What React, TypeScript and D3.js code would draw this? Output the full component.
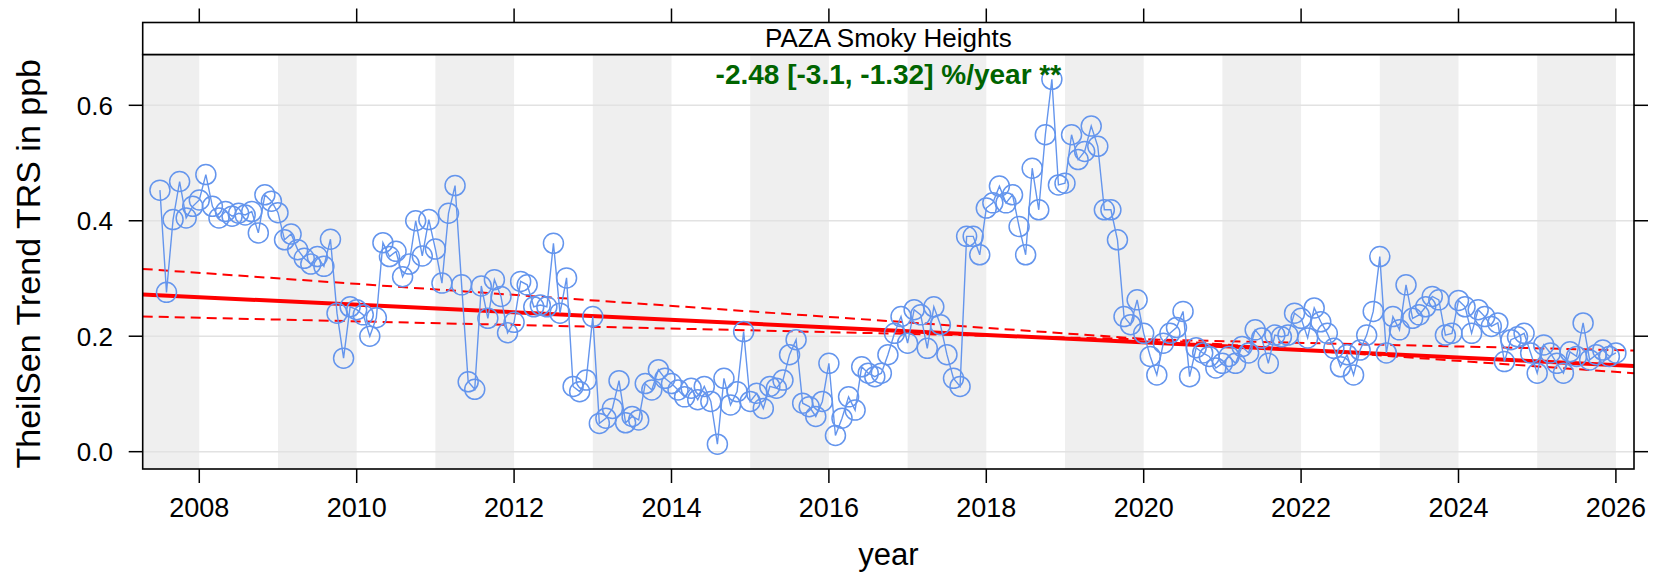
import React from "react";
import * as d3 from "d3";

// ---------- data ----------
const startYear = 2007;
const startMonth = 7; // first monthly mean: July 2007

const trs2007 = [0.453, 0.276, 0.402, 0.468, 0.405, 0.425];
const trs2008 = [0.436, 0.48, 0.425, 0.405, 0.416, 0.408, 0.413, 0.41, 0.416, 0.379, 0.445, 0.434];
const trs2009 = [0.414, 0.367, 0.377, 0.35, 0.335, 0.325, 0.338, 0.321, 0.368, 0.24, 0.162, 0.251];
const trs2010 = [0.246, 0.237, 0.2, 0.232, 0.362, 0.338, 0.347, 0.303, 0.325, 0.4, 0.339, 0.402];
const trs2011 = [0.351, 0.292, 0.413, 0.461, 0.289, 0.121, 0.108, 0.287, 0.231, 0.298, 0.269, 0.206];
const trs2012 = [0.224, 0.295, 0.289, 0.251, 0.254, 0.251, 0.361, 0.24, 0.301, 0.113, 0.104, 0.124];
const trs2013 = [0.234, 0.049, 0.058, 0.075, 0.123, 0.05, 0.061, 0.055, 0.118, 0.107, 0.142, 0.127];
const trs2014 = [0.118, 0.107, 0.095, 0.11, 0.09, 0.113, 0.087, 0.013, 0.127, 0.081, 0.104, 0.208];
const trs2015 = [0.087, 0.101, 0.075, 0.113, 0.11, 0.124, 0.168, 0.194, 0.084, 0.078, 0.061, 0.087];
const trs2016 = [0.153, 0.028, 0.058, 0.095, 0.072, 0.147, 0.136, 0.13, 0.136, 0.168, 0.205, 0.234];
const trs2017 = [0.188, 0.246, 0.237, 0.179, 0.251, 0.22, 0.168, 0.127, 0.113, 0.373, 0.373, 0.341];
const trs2018 = [0.422, 0.431, 0.46, 0.431, 0.445, 0.39, 0.341, 0.491, 0.419, 0.549, 0.645, 0.462];
const trs2019 = [0.465, 0.549, 0.506, 0.52, 0.564, 0.529, 0.419, 0.419, 0.367, 0.234, 0.22, 0.263];
const trs2020 = [0.205, 0.165, 0.133, 0.188, 0.205, 0.215, 0.243, 0.13, 0.18, 0.171, 0.165, 0.145];
const trs2021 = [0.153, 0.165, 0.153, 0.182, 0.171, 0.211, 0.197, 0.153, 0.202, 0.199, 0.202, 0.24];
const trs2022 = [0.231, 0.197, 0.249, 0.225, 0.205, 0.179, 0.147, 0.168, 0.133, 0.176, 0.202, 0.243];
const trs2023 = [0.338, 0.171, 0.234, 0.211, 0.289, 0.231, 0.237, 0.251, 0.269, 0.263, 0.202, 0.205];
const trs2024 = [0.262, 0.251, 0.205, 0.246, 0.234, 0.217, 0.223, 0.156, 0.194, 0.199, 0.205, 0.171];
const trs2025 = [0.136, 0.185, 0.171, 0.153, 0.136, 0.173, 0.165, 0.223, 0.159, 0.168, 0.176, 0.165];
const trs2026 = [0.171];

const trsValues = [
  ...trs2007, ...trs2008, ...trs2009, ...trs2010, ...trs2011, ...trs2012, ...trs2013,
  ...trs2014, ...trs2015, ...trs2016, ...trs2017, ...trs2018, ...trs2019, ...trs2020,
  ...trs2021, ...trs2022, ...trs2023, ...trs2024, ...trs2025, ...trs2026,
];

const xDomain = [2007.281, 2026.23];
const yDomain = [-0.03, 0.688];
const xTickYears = [2008, 2010, 2012, 2014, 2016, 2018, 2020, 2022, 2024, 2026];
const yTickValues = [0, 0.2, 0.4, 0.6];
const yTickLabels = ["0.0", "0.2", "0.4", "0.6"];
const shadedYears = [2007, 2009, 2011, 2013, 2015, 2017, 2019, 2021, 2023, 2025];

// Theil-Sen trend (value at the left and right panel edges)
const trendCentral = [0.2722, 0.1486];
const trendCiSteep = [0.3166, 0.136];
const trendCiShallow = [0.2342, 0.1753];

const siteName = "PAZA Smoky Heights";
const trendLabel = "-2.48 [-3.1, -1.32] %/year **";
const yTitle = "TheilSen Trend TRS in ppb";
const xTitle = "year";

// ---------- layout ----------
const W = 1658;
const H = 581;
const L = 142.7;
const R = 1634;
const T = 54.5;
const B = 469;
const stripTop = 22.5;
const FONT = "'Liberation Sans', Arial, Helvetica, sans-serif";
const BLUE = "#6495ED";

export default function App() {
  const x = d3.scaleLinear().domain(xDomain).range([L, R]);
  const y = d3.scaleLinear().domain(yDomain).range([B, T]);

  const pts = trsValues.map((v, i) => ({
    t: startYear + (startMonth - 1 + i) / 12,
    v,
  }));
  const line = d3
    .line<{ t: number; v: number }>()
    .x((d) => x(d.t))
    .y((d) => y(d.v));

  const trendPath = (vals: number[]) =>
    d3.line<number>()
      .x((_, i) => x(xDomain[i]))
      .y((d) => y(d))(vals) || "";

  return (
    <svg
      width={W}
      height={H}
      style={{ position: "absolute", left: 0, top: 0, background: "#fff" }}
      fontFamily={FONT}
    >
      <defs>
        <clipPath id="panel">
          <rect x={L} y={T} width={R - L} height={B - T} />
        </clipPath>
      </defs>
      <rect x={0} y={0} width={W} height={H} fill="#fff" />

      {/* shaded years */}
      <g clipPath="url(#panel)">
        {shadedYears.map((yr) => (
          <rect
            key={yr}
            x={x(yr)}
            y={T}
            width={x(yr + 1) - x(yr)}
            height={B - T}
            fill="#efefef"
          />
        ))}
        {yTickValues.map((v) => (
          <line key={v} x1={L} x2={R} y1={y(v)} y2={y(v)} stroke="#e2e2e2" strokeWidth={1.5} />
        ))}

        {/* trend lines */}
        <path d={trendPath(trendCiSteep)} fill="none" stroke="#ff0000" strokeWidth={2} strokeDasharray="10,6" />
        <path d={trendPath(trendCiShallow)} fill="none" stroke="#ff0000" strokeWidth={2} strokeDasharray="10,6" />
        <path d={trendPath(trendCentral)} fill="none" stroke="#ff0000" strokeWidth={4} />

        {/* data */}
        <path d={line(pts) || ""} fill="none" stroke={BLUE} strokeWidth={1.4} />
        {pts.map((d, i) => (
          <circle key={i} cx={x(d.t)} cy={y(d.v)} r={10} fill="none" stroke={BLUE} strokeWidth={1.5} />
        ))}
      </g>

      {/* panel border */}
      <rect x={L} y={T} width={R - L} height={B - T} fill="none" stroke="#000" strokeWidth={1.6} />
      {/* strip */}
      <rect x={L} y={stripTop} width={R - L} height={T - stripTop} fill="#fff" stroke="#000" strokeWidth={1.6} />
      <text x={(L + R) / 2} y={46.5} textAnchor="middle" fontSize={26} fill="#000">
        {siteName}
      </text>
      <text x={(L + R) / 2} y={84} textAnchor="middle" fontSize={28} fontWeight="bold" fill="#006400">
        {trendLabel}
      </text>

      {/* x ticks bottom & top */}
      {xTickYears.map((yr) => (
        <g key={yr}>
          <line x1={x(yr)} x2={x(yr)} y1={B} y2={B + 14} stroke="#000" strokeWidth={1.5} />
          <line x1={x(yr)} x2={x(yr)} y1={stripTop} y2={stripTop - 14} stroke="#000" strokeWidth={1.5} />
          <text x={x(yr)} y={517} textAnchor="middle" fontSize={27} fill="#000">
            {yr}
          </text>
        </g>
      ))}

      {/* y ticks left & right */}
      {yTickValues.map((v, i) => (
        <g key={v}>
          <line x1={L} x2={L - 14} y1={y(v)} y2={y(v)} stroke="#000" strokeWidth={1.5} />
          <line x1={R} x2={R + 14} y1={y(v)} y2={y(v)} stroke="#000" strokeWidth={1.5} />
          <text x={113} y={y(v) + 9.5} textAnchor="end" fontSize={26} fill="#000">
            {yTickLabels[i]}
          </text>
        </g>
      ))}

      {/* axis titles */}
      <text
        transform={`translate(40, ${(T + B) / 2 + 2}) rotate(-90)`}
        textAnchor="middle"
        fontSize={34}
        fill="#000"
      >
        {yTitle}
      </text>
      <text x={(L + R) / 2} y={565} textAnchor="middle" fontSize={31} fill="#000">
        {xTitle}
      </text>
    </svg>
  );
}
